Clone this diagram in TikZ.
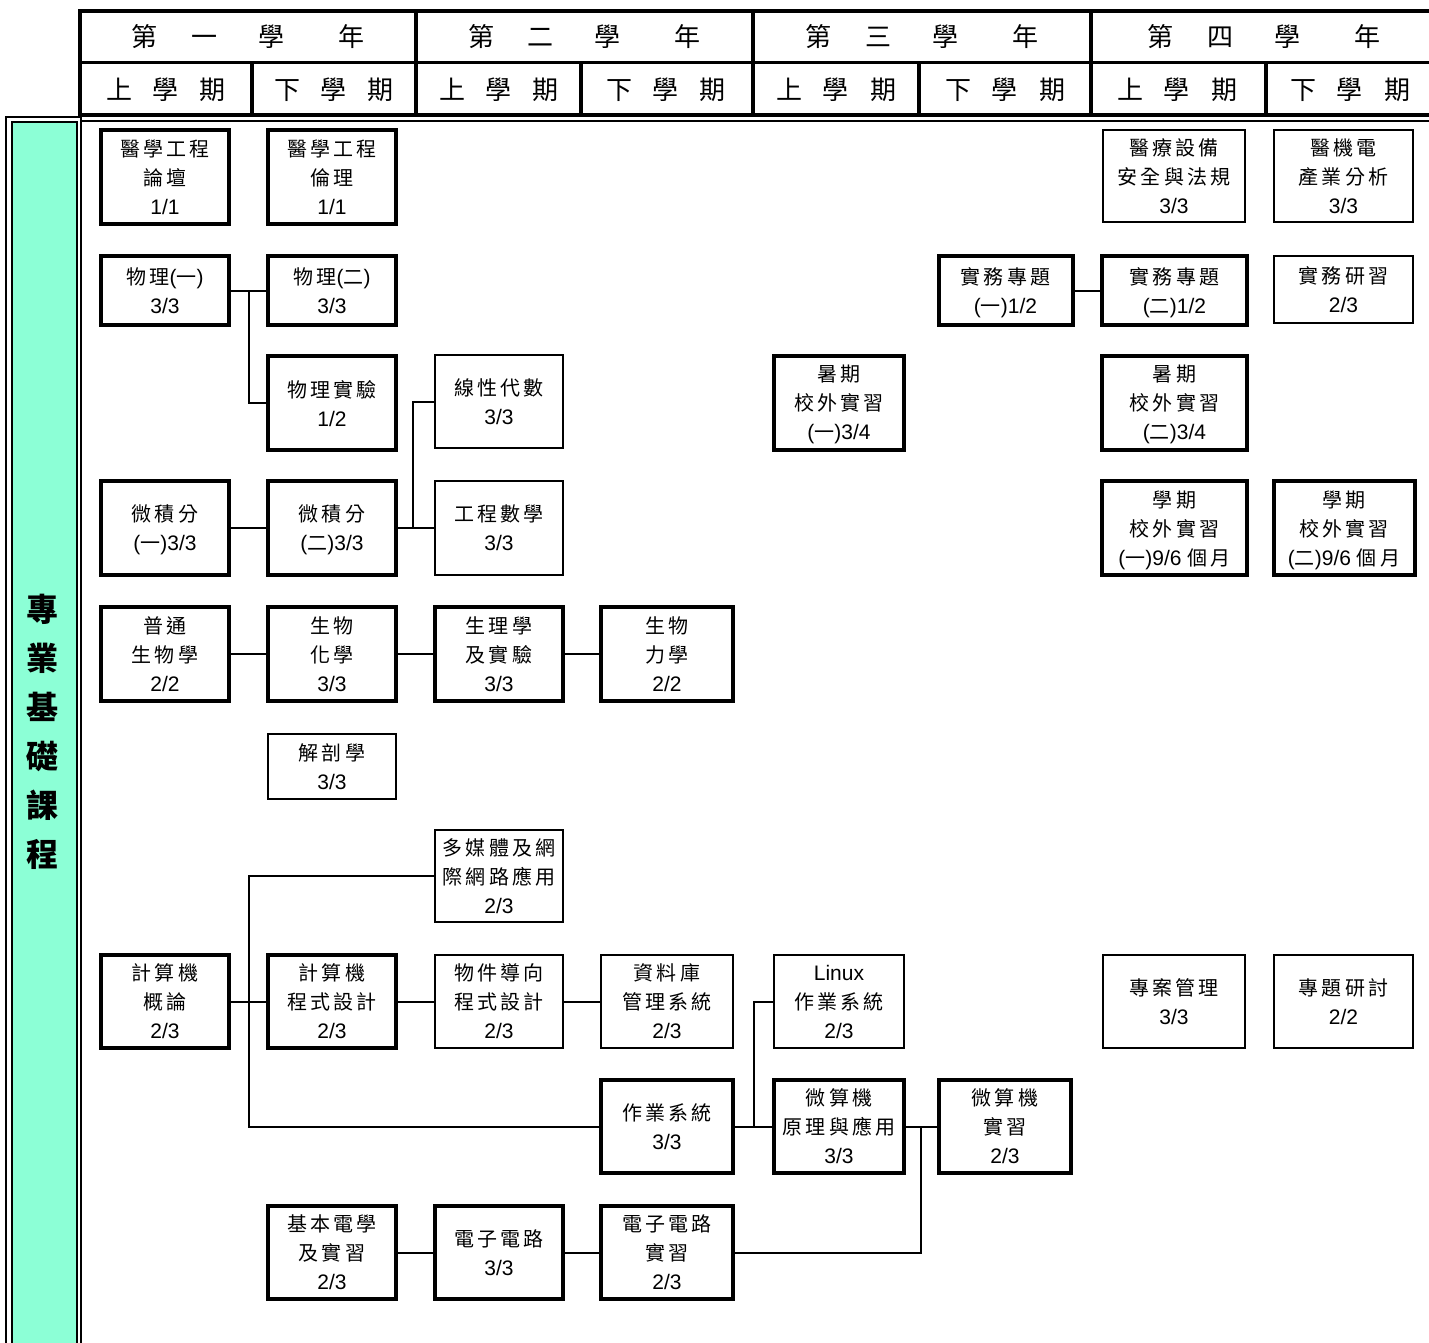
\documentclass[tikz,border=0pt]{standalone}
\usepackage{fontspec}
\setmainfont{Liberation Sans}
\newfontfamily\cj{Noto Sans CJK TC}[LetterSpace=16]
\newfontfamily\cjh{Noto Sans CJK TC}
\newcommand\zh[1]{{\cj\fontsize{20}{29}\selectfont #1}}
\newcommand\hz[1]{{\cjh #1}}
\definecolor{colgreen}{RGB}{140,255,214}
\tikzset{
  box/.style={draw, inner sep=0pt, outer sep=0pt, align=center, text depth=0pt, font=\fontsize{21}{29}\selectfont},
  thk/.style={box, line width=4pt},
  thn/.style={box, line width=2pt},
  conn/.style={line width=2pt},
  hdr/.style={line width=4pt},
  yearlbl/.style={font=\fontsize{26}{30}\selectfont},
}
\begin{document}
\begin{tikzpicture}[x=1pt,y=-1pt]
\useasboundingbox (0,0) rectangle (1429,1342);
\clip (0,0) rectangle (1429,1342);
% header
\draw[hdr] (80,11) rectangle (1445,115);
\draw[line width=3pt] (80,62) -- (1445,62);
\foreach \x in {416,753,1091} \draw[hdr] (\x,11) -- (\x,115);
\foreach \x in {252,581,919,1266} \draw[hdr] (\x,62) -- (\x,115);
\node[yearlbl] (y1) at (248,37) {\hz{第}\hspace{34pt}\hz{一}\hspace{41pt}\hz{學}\hspace{54pt}\hz{年}};
\node[yearlbl] (y2) at (584.5,37) {\hz{第}\hspace{34pt}\hz{二}\hspace{41pt}\hz{學}\hspace{54pt}\hz{年}};
\node[yearlbl] (y3) at (922,37) {\hz{第}\hspace{34pt}\hz{三}\hspace{41pt}\hz{學}\hspace{54pt}\hz{年}};
\node[yearlbl] (y4) at (1264,37) {\hz{第}\hspace{34pt}\hz{四}\hspace{41pt}\hz{學}\hspace{54pt}\hz{年}};
\node[yearlbl] (s1) at (166,90) {\hz{上}\hspace{21pt}\hz{學}\hspace{21pt}\hz{期}};
\node[yearlbl] (s2) at (334,90) {\hz{下}\hspace{21pt}\hz{學}\hspace{21pt}\hz{期}};
\node[yearlbl] (s3) at (499,90) {\hz{上}\hspace{21pt}\hz{學}\hspace{21pt}\hz{期}};
\node[yearlbl] (s4) at (666,90) {\hz{下}\hspace{21pt}\hz{學}\hspace{21pt}\hz{期}};
\node[yearlbl] (s5) at (836,90) {\hz{上}\hspace{21pt}\hz{學}\hspace{21pt}\hz{期}};
\node[yearlbl] (s6) at (1005,90) {\hz{下}\hspace{21pt}\hz{學}\hspace{21pt}\hz{期}};
\node[yearlbl] (s7) at (1177,90) {\hz{上}\hspace{21pt}\hz{學}\hspace{21pt}\hz{期}};
\node[yearlbl] (s8) at (1350,90) {\hz{下}\hspace{21pt}\hz{學}\hspace{21pt}\hz{期}};
% left column
\draw[line width=1.2pt] (6,1360) -- (6,117) -- (81,117) -- (81,1360);
\draw[line width=1.2pt] (81,121) -- (1445,121);
\fill[colgreen] (12,122) rectangle (77,1360);
\draw[line width=2pt] (12,1360) -- (12,122) -- (77,122) -- (77,1360);
\node[font=\fontsize{32}{49}\selectfont\bfseries, align=center] (title) at (43,732)
  {\hz{專}\\\hz{業}\\\hz{基}\\\hz{礎}\\\hz{課}\\\hz{程}};
% row 1
\node[thk,minimum width=128,minimum height=94] (forum) at (165,177) {\zh{醫學工程}\\\zh{論壇}\\1/1};
\node[thk,minimum width=128,minimum height=94] (ethic) at (332,177) {\zh{醫學工程}\\\zh{倫理}\\1/1};
\node[thn,minimum width=142,minimum height=92] (safety) at (1174,176) {\zh{醫療設備}\\\zh{安全與法規}\\3/3};
\node[thn,minimum width=139,minimum height=92] (industry) at (1343.5,176) {\zh{醫機電}\\\zh{產業分析}\\3/3};
% row 2
\node[thk,minimum width=128,minimum height=69] (phy1) at (165,290.5) {\zh{物理}(\zh{一})\\3/3};
\node[thk,minimum width=128,minimum height=69] (phy2) at (332,290.5) {\zh{物理}(\zh{二})\\3/3};
\node[thk,minimum width=134,minimum height=69] (prj1) at (1005.5,290.5) {\zh{實務專題}\\(\zh{一})1/2};
\node[thk,minimum width=145,minimum height=69] (prj2) at (1174.5,290.5) {\zh{實務專題}\\(\zh{二})1/2};
\node[thn,minimum width=139,minimum height=67] (intern) at (1343.5,289.5) {\zh{實務研習}\\2/3};
% row 3
\node[thk,minimum width=128,minimum height=94] (phylab) at (332,403) {\zh{物理實驗}\\1/2};
\node[thn,minimum width=128,minimum height=93] (linalg) at (499,401.5) {\zh{線性代數}\\3/3};
\node[thk,minimum width=130,minimum height=94] (sum1) at (839,402.5) {\zh{暑期}\\\zh{校外實習}\\(\zh{一})3/4};
\node[thk,minimum width=145,minimum height=94] (sum2) at (1174.5,402.5) {\zh{暑期}\\\zh{校外實習}\\(\zh{二})3/4};
% row 4
\node[thk,minimum width=128,minimum height=94] (calc1) at (165,528) {\zh{微積分}\\(\zh{一})3/3};
\node[thk,minimum width=128,minimum height=94] (calc2) at (332,528) {\zh{微積分}\\(\zh{二})3/3};
\node[thn,minimum width=128,minimum height=94] (engm) at (499,528) {\zh{工程數學}\\3/3};
\node[thk,minimum width=145,minimum height=94] (term1) at (1174.5,528) {\zh{學期}\\\zh{校外實習}\\(\zh{一})9/6 \zh{個月}};
\node[thk,minimum width=141,minimum height=94] (term2) at (1344,528) {\zh{學期}\\\zh{校外實習}\\(\zh{二})9/6 \zh{個月}};
% row 5
\node[thk,minimum width=128,minimum height=94] (bio1) at (165,654) {\zh{普通}\\\zh{生物學}\\2/2};
\node[thk,minimum width=128,minimum height=94] (bio2) at (332,654) {\zh{生物}\\\zh{化學}\\3/3};
\node[thk,minimum width=128,minimum height=94] (bio3) at (499,654) {\zh{生理學}\\\zh{及實驗}\\3/3};
\node[thk,minimum width=132,minimum height=94] (bio4) at (667,654) {\zh{生物}\\\zh{力學}\\2/2};
% row 6
\node[thn,minimum width=128,minimum height=65] (anat) at (332,766.5) {\zh{解剖學}\\3/3};
% row 7
\node[thn,minimum width=128,minimum height=92] (mm) at (499,876) {\zh{多媒體及網}\\\zh{際網路應用}\\2/3};
% row 8
\node[thk,minimum width=128,minimum height=93] (cs1) at (165,1001.5) {\zh{計算機}\\\zh{概論}\\2/3};
\node[thk,minimum width=128,minimum height=93] (cs2) at (332,1001.5) {\zh{計算機}\\\zh{程式設計}\\2/3};
\node[thn,minimum width=128,minimum height=93] (oop) at (499,1001.5) {\zh{物件導向}\\\zh{程式設計}\\2/3};
\node[thn,minimum width=132,minimum height=93] (db) at (667,1001.5) {\zh{資料庫}\\\zh{管理系統}\\2/3};
\node[thn,minimum width=130,minimum height=93] (linux) at (839,1001.5) {Linux\\\zh{作業系統}\\2/3};
\node[thn,minimum width=142,minimum height=93] (pm) at (1174,1001.5) {\zh{專案管理}\\3/3};
\node[thn,minimum width=139,minimum height=93] (seminar) at (1343.5,1001.5) {\zh{專題研討}\\2/2};
% row 9
\node[thk,minimum width=132,minimum height=93] (os) at (667,1126.5) {\zh{作業系統}\\3/3};
\node[thk,minimum width=130,minimum height=93] (mcu) at (839,1126.5) {\zh{微算機}\\\zh{原理與應用}\\3/3};
\node[thk,minimum width=132,minimum height=93] (mculab) at (1005,1126.5) {\zh{微算機}\\\zh{實習}\\2/3};
% row 10
\node[thk,minimum width=128,minimum height=93] (ee1) at (332,1252.5) {\zh{基本電學}\\\zh{及實習}\\2/3};
\node[thk,minimum width=128,minimum height=93] (ee2) at (499,1252.5) {\zh{電子電路}\\3/3};
\node[thk,minimum width=132,minimum height=93] (ee3) at (667,1252.5) {\zh{電子電路}\\\zh{實習}\\2/3};
% connectors
\draw[conn] (phy1.east) -- (phy2.west);
\draw[conn] (phy1.east) -- ++(20,0) |- (phylab.west);
\draw[conn] (calc1.east) -- (calc2.west);
\draw[conn] (calc2.east) -- (engm.west);
\draw[conn] (calc2.east) -- ++(17,0) |- (linalg.west);
\draw[conn] (bio1.east) -- (bio2.west);
\draw[conn] (bio2.east) -- (bio3.west);
\draw[conn] (bio3.east) -- (bio4.west);
\draw[conn] (prj1.east) -- (prj2.west);
\draw[conn] (cs1.east) -- (cs2.west);
\draw[conn] (cs1.east) -- ++(20,0) |- (mm.west);
\draw[conn] (cs1.east) -- ++(20,0) |- (os.west);
\draw[conn] (cs2.east) -- (oop.west);
\draw[conn] (oop.east) -- (db.west);
\draw[conn] (os.east) -- (mcu.west);
\draw[conn] (os.east) -- ++(21,0) |- (linux.west);
\draw[conn] (mcu.east) -- (mculab.west);
\draw[conn] (mcu.east) -- ++(17,0) |- (ee3.east);
\draw[conn] (ee1.east) -- (ee2.west);
\draw[conn] (ee2.east) -- (ee3.west);
\end{tikzpicture}
\end{document}
